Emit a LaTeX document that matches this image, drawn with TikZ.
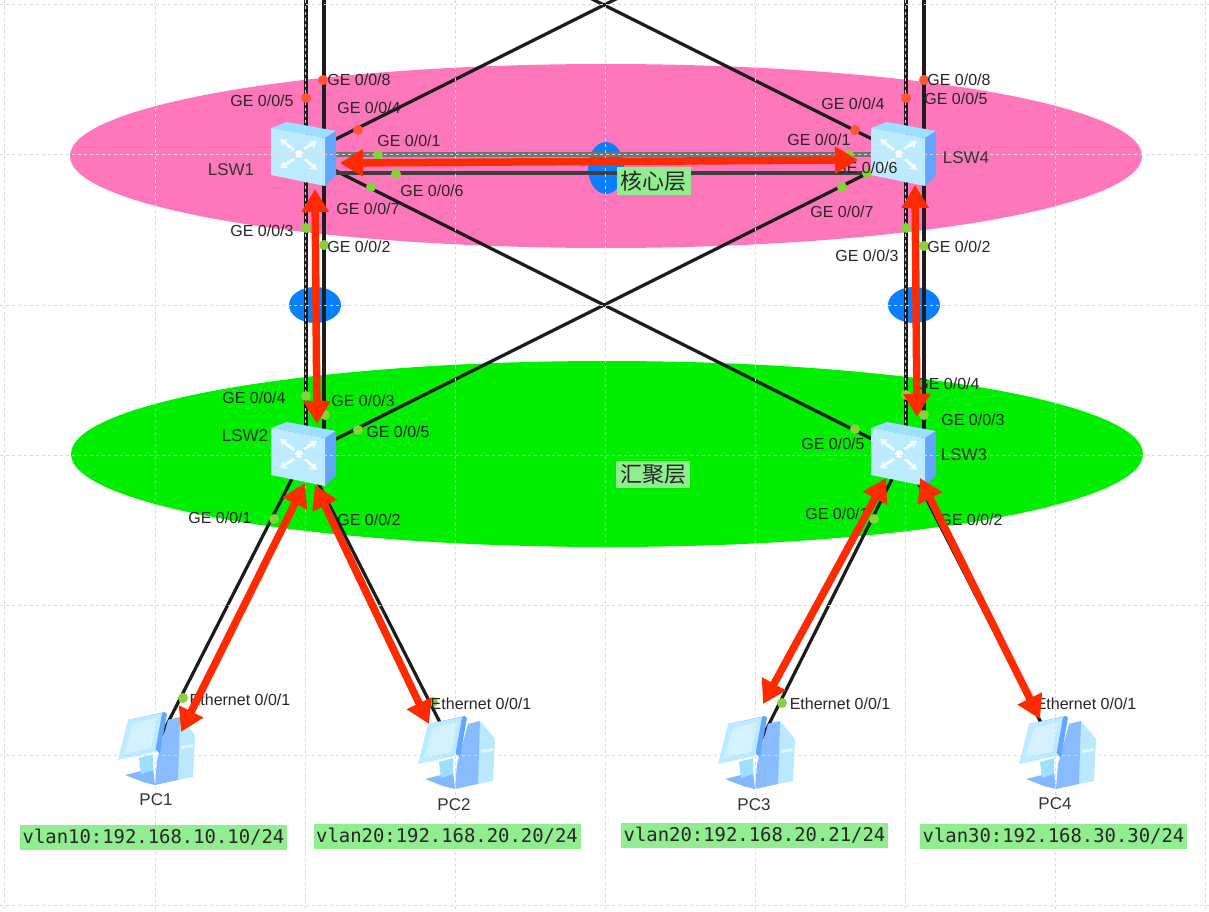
\documentclass[tikz,border=0pt]{standalone}
\usepackage{fontspec}
\setmainfont{Liberation Sans}
\newfontfamily\cjkfont{Noto Sans CJK SC}
\newfontfamily\vlanfont{DejaVu Sans Mono}
\usetikzlibrary{arrows.meta}
\definecolor{corepink}{HTML}{FF77BB}
\definecolor{aggrgreen}{HTML}{00EE00}
\definecolor{vlangreen}{HTML}{90EE90}
\definecolor{vlanblue}{HTML}{0A7FFF}
\definecolor{redarrow}{HTML}{FF2A00}
\definecolor{portred}{HTML}{FF5533}
\definecolor{portgreen}{HTML}{86D23C}
\definecolor{linkblack}{HTML}{1C1C1C}
\definecolor{iconlight}{HTML}{BCEBFF}
\definecolor{icontop}{HTML}{9CDFFF}
\definecolor{iconside}{HTML}{62A6FF}
\tikzset{
    link/.style={linkblack,line width=3.2pt},
    gridline/.style={black!15,dashed,line width=1pt},
    flow/.style={redarrow,line width=7.5pt,{Triangle[width=26pt,length=23pt]}-{Triangle[width=26pt,length=23pt]}},
    redport/.style={circle,fill=portred,inner sep=0pt,minimum size=10pt},
    greenport/.style={circle,fill=portgreen,inner sep=0pt,minimum size=10pt},
    geport/.style={text=black!85,font=\fontsize{16}{18}\selectfont,inner sep=0pt},
    devname/.style={text=black!80,font=\fontsize{17}{19}\selectfont,inner sep=0pt},
    vlanbox/.style={fill=vlangreen,text=black!85,font=\vlanfont\fontsize{18.9}{21}\selectfont,minimum width=267pt,minimum height=25pt,inner sep=0pt},
    layerbox/.style={fill=vlangreen,text=black!85,font=\cjkfont\fontsize{22}{24}\selectfont,minimum width=74pt,minimum height=27pt,inner sep=0pt},
    swspoke/.style={white!85!iconlight,line width=3pt,-{Stealth[length=7pt,width=9pt]}},
    switchicon/.pic={
        \fill[icontop] (-33,-27)--(-17,-33)--(32,-24)--(21,-17)--cycle;
        \fill[iconside] (21,-17)--(32,-24)--(32,20)--(21,31)--cycle;
        \fill[iconlight] (-33,-27)--(21,-17)--(21,31)--(-33,20)--cycle;
        \fill[white] (-5,-1) circle (4);
        \draw[swspoke] (-10,-5)--(-24,-16);
        \draw[swspoke] (0,-6)--(13,-14);
        \draw[swspoke] (-10,4)--(-24,13);
        \draw[swspoke] (1,4)--(13,15);
    },
    pcicon/.pic={
        \fill[icontop!70!white] (13,-28)--(25,-31)--(40,-13)--(38,29)--(23,32)--cycle;
        \fill[iconside!75!white] (13,-28)--(25,-31)--(23,32)--(0,37)--(2,12)--cycle;
        \fill[iconside!80!white] (-30,27)--(-2,20)--(0,37)--(-12,34)--cycle;
        \fill[icontop] (-16,10)--(-2,6)--(-2,22)--(-14,26)--cycle;
        \fill[iconside] (-27,-28)--(10,-36)--(12,-34)--(5,5)--(3,4)--cycle;
        \fill[iconlight] (-27,-28)--(7,-35)--(0,4)--(-37,12)--cycle;
        \fill[white,opacity=.35] (-22,-24)--(2,-30)--(-4,0)--(-31,6)--cycle;
        \fill[white!70!icontop] (26,-2)--(38,-4)--(38,-1)--(26,1)--cycle;
    },
}
\begin{document}
\begin{tikzpicture}[x=1pt,y=-1pt]
    \path[use as bounding box,clip] (0,0) rectangle (1209,912);
    \fill[white] (0,0) rectangle (1209,912);
    % layers
    \fill[corepink] (606,156) ellipse (536 and 92);
    \fill[aggrgreen] (607,454) ellipse (536 and 93);
    \fill[vlanblue] (606,168) ellipse (18 and 26);
    \fill[vlanblue] (315,305) ellipse (26 and 18);
    \fill[vlanblue] (914,305) ellipse (26 and 18);
    \path
    (304,155) coordinate (LSW1)
    (904,155) coordinate (LSW4)
    (304,455) coordinate (LSW2)
    (904,455) coordinate (LSW3)
    (155,748) coordinate (PC1)
    (455,752) coordinate (PC2)
    (755,752) coordinate (PC3)
    (1056,752) coordinate (PC4)
    (904,-145) coordinate (UpR)
    (304,-145) coordinate (UpL)
    (306,-5) coordinate (TopA)
    (324,-5) coordinate (TopB)
    (906,-5) coordinate (TopC)
    (924,-5) coordinate (TopD)
    (306,440) coordinate (DownA)
    (324,440) coordinate (DownB)
    (906,440) coordinate (DownC)
    (924,440) coordinate (DownD)
    (304,155) coordinate (CoreA)
    (904,155) coordinate (CoreB)
    (304,173) coordinate (CoreC)
    (904,173) coordinate (CoreD)
    ;
    % links
    \draw[link] (LSW1)--(UpR) (LSW4)--(UpL) (LSW1)--(LSW3) (LSW2)--(LSW4);
    \draw[link] (TopA)--(DownA) (TopB)--(DownB) (TopC)--(DownC) (TopD)--(DownD);
    \draw[black!55,line width=5pt] (CoreA)--(CoreB);
    \draw[linkblack!85,line width=3.5pt] (CoreC)--(CoreD);
    \draw[link] (LSW2)--(PC1) (LSW2)--(PC2) (LSW3)--(PC3) (LSW3)--(PC4);
    % devices
    \foreach \d in {LSW1,LSW2,LSW3,LSW4} \pic at (\d) {switchicon};
    \foreach \d in {PC1,PC2,PC3,PC4} \pic at (\d) {pcicon};
    % dashed grid
    \foreach \x in {4,155,305,455,605,755,905,1055,1205} \draw[gridline] (\x,0)--(\x,912);
    \foreach \y in {5,155,305,455,605,755,905} \draw[gridline] (0,\y)--(1209,\y);
    % ports
    \foreach \n/\x/\y in {a8/323/80,a5/306/98,a4/358/130,d8/924/80,d5/906/98,d4/855/130}
        \node[redport] (\n) at (\x,\y) {};
    \foreach \n/\x/\y in {a1/378/155,a6/396/174,a7/371/187,a3/306/228,a2/324/245,
        d1/849/155,d6/867/173,d7/842/187,d3/906/228,d2/924/246,
        b4/306/396,b3/325/415,b5/358/430,b1/274/519,
        c4/906/395,c3/924/415,c5/855/429,c1/874/519,
        e1/183/698,e2/433/702,e3/782/703,e4/1034/702}
        \node[greenport] (\n) at (\x,\y) {};
    % port labels
    \foreach \n/\x/\y/\p in {ga8/359/80/8,ga5/262/101/5,ga4/369/108/4,ga1/409/141/1,ga6/432/191/6,ga7/368/209/7,ga3/262/231/3,ga2/359/247/2,
        gd8/959/80/8,gd5/956/99/5,gd4/853/104/4,gd1/819/140/1,gd6/866/168/6,gd7/842/212/7,gd3/867/256/3,gd2/959/247/2,
        gb4/254/398/4,gb3/363/401/3,gb5/398/432/5,gb1/220/518/1,gb2/369/520/2,
        gc4/948/384/4,gc3/973/420/3,gc5/833/444/5,gc1/837/514/1,gc2/971/520/2}
        \node[geport] (\n) at (\x,\y) {GE 0/0/\p};
    \foreach \n/\x/\y in {ge1/240/700,ge2/481/704,ge3/840/704,ge4/1086/704}
        \node[geport] (\n) at (\x,\y) {Ethernet 0/0/1};
    % names
    \foreach \n/\x/\y/\t in {n1/231/170/LSW1,n4/966/158/LSW4,n2/245/436/LSW2,n3/964/455/LSW3,
        m1/156/800/PC1,m2/454/805/PC2,m3/754/805/PC3,m4/1055/804/PC4}
        \node[devname] (\n) at (\x,\y) {\t};
    \node[vlanbox] (v1) at (153.5,837) {vlan10:192.168.10.10/24};
    \node[vlanbox] (v2) at (447,836) {vlan20:192.168.20.20/24};
    \node[vlanbox] (v3) at (754.5,835) {vlan20:192.168.20.21/24};
    \node[vlanbox] (v4) at (1053.5,836) {vlan30:192.168.30.30/24};
    \node[layerbox] (core) at (653.5,181) {核心层};
    \node[layerbox] (aggr) at (653,474.5) {汇聚层};
    % traffic arrows
    \path
    (340,163) coordinate (F1a) (858,160) coordinate (F1b)
    (315,189) coordinate (F2a) (317,424) coordinate (F2b)
    (915,185) coordinate (F3a) (917,417) coordinate (F3b)
    (305,483) coordinate (F4a) (181,732) coordinate (F4b)
    (315,485) coordinate (F5a) (429,724) coordinate (F5b)
    (886,478) coordinate (F6a) (763,704) coordinate (F6b)
    (920,478) coordinate (F7a) (1040,719) coordinate (F7b)
    ;
    \foreach \i in {1,...,7} \draw[flow] (F\i a)--(F\i b);
\end{tikzpicture}
\end{document}
